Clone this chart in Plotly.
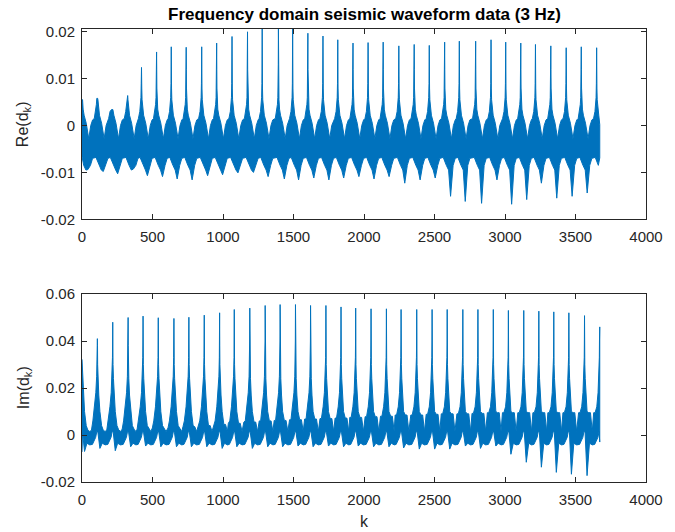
import plotly.graph_objects as go

# ---------------- data ----------------
K_END = 3672  # last sample index

# Re(d_k): spike positions, spike peaks, deepest trough after each spike
re_spike_k = [0, 109, 211, 322, 422, 529, 633, 739, 849, 955, 1064, 1174, 1278, 1393,
              1494, 1602, 1709, 1814, 1922, 2029, 2136, 2247, 2356, 2463, 2572, 2676,
              2792, 2901, 3005, 3112, 3216, 3325, 3434, 3541, 3650]
re_peak = [0.0056, 0.0058, 0.0034, 0.0064, 0.0124, 0.0157, 0.0168, 0.0167, 0.0168, 0.0176,
           0.0190, 0.0200, 0.0207, 0.0209, 0.0209, 0.0197, 0.0191, 0.0183, 0.0176, 0.0177,
           0.0178, 0.0170, 0.0173, 0.0171, 0.0178, 0.0180, 0.0180, 0.0183, 0.0178, 0.0176,
           0.0173, 0.0170, 0.0166, 0.0168, 0.0166]
re_trough = [-0.0094, -0.0098, -0.0103, -0.0093, -0.0107, -0.0109, -0.0114, -0.0116, -0.0107,
             -0.0105, -0.0101, -0.0100, -0.0109, -0.0114, -0.0116, -0.0112, -0.0116, -0.0112,
             -0.0109, -0.0114, -0.0109, -0.0123, -0.0116, -0.0112, -0.0151, -0.0162, -0.0166,
             -0.0116, -0.0168, -0.0158, -0.0123, -0.0155, -0.0151, -0.0144, -0.0073]
# typical Re band shape around a spike (offset in samples, value)
re_upper_shape = [(-22, 0.0015), (-12, 0.0030), (-7, 0.0045), (-4, 0.0060), (-2, 0.0090),
                  (-1, 0.0130), (1, 0.0120), (2, 0.0080), (4, 0.0055), (8, 0.0035),
                  (15, 0.0022), (30, 0.0005), (48, -0.0028), (62, 0.0000), (75, 0.0012)]
re_lower_shape = [(-10, -0.0068), (0, -0.0075), (12, -0.0085), (28, -0.0095),
                  (60, -0.0085), (75, -0.0070)]
re_trough_offset = 42

# Im(d_k): spike positions, spike peaks, dip after spike, band top between spikes
im_spike_k = [0, 109, 218, 327, 433, 541, 652, 758, 867, 976, 1080, 1190, 1299, 1405,
              1514, 1621, 1730, 1837, 1941, 2050, 2159, 2263, 2374, 2483, 2590, 2701,
              2808, 2917, 3024, 3133, 3240, 3346, 3453, 3564, 3671]
im_peak = [0.0322, 0.0410, 0.0480, 0.0500, 0.0506, 0.0499, 0.0496, 0.0501, 0.0510, 0.0520,
           0.0534, 0.0540, 0.0551, 0.0555, 0.0555, 0.0551, 0.0551, 0.0545, 0.0540, 0.0537,
           0.0537, 0.0534, 0.0534, 0.0534, 0.0534, 0.0534, 0.0534, 0.0534, 0.0530, 0.0530,
           0.0527, 0.0524, 0.0520, 0.0508, 0.0460]
im_dip = [-0.0070, -0.0057, -0.0067, -0.0050, -0.0047, -0.0050, -0.0050, -0.0050, -0.0050,
          -0.0057, -0.0050, -0.0057, -0.0050, -0.0050, -0.0047, -0.0050, -0.0047, -0.0050,
          -0.0047, -0.0050, -0.0050, -0.0055, -0.0060, -0.0060, -0.0060, -0.0047, -0.0057,
          -0.0047, -0.0082, -0.0116, -0.0137, -0.0159, -0.0167, -0.0173, -0.0030]
im_band_top = [0.0020, 0.0020, 0.0022, 0.0025, 0.0025, 0.0030, 0.0030, 0.0035, 0.0040,
               0.0045, 0.0050, 0.0055, 0.0060, 0.0062, 0.0065, 0.0068, 0.0070, 0.0072,
               0.0075, 0.0078, 0.0080, 0.0085, 0.0085, 0.0088, 0.0090, 0.0090, 0.0092,
               0.0095, 0.0095, 0.0095, 0.0095, 0.0095, 0.0095, 0.0095, 0.0095]
im_notch = 0.0015  # band top in the gap between two spikes
im_upper_shape = [(-32, 0.0060), (-20, 0.0120), (-11, 0.0180), (-5, 0.0250), (-2, 0.0330),
                  (-1, 0.0400), (1, 0.0380), (2, 0.0300), (5, 0.0240), (10, 0.0170),
                  (18, 0.0100), (30, 0.0040)]
im_lower_shape = [(-35, -0.0040), (-12, -0.0010), (-4, 0.0015), (4, 0.0010),
                  (35, -0.0035), (55, -0.0042)]
im_dip_offset = 18

re_ticks = [-0.02, -0.01, 0, 0.01, 0.02]
re_ticktext = ["-0.02", "-0.01", "0", "0.01", "0.02"]
im_ticks = [-0.02, 0, 0.02, 0.04, 0.06]
im_ticktext = ["-0.02", "0", "0.02", "0.04", "0.06"]
k_ticks = [0, 500, 1000, 1500, 2000, 2500, 3000, 3500, 4000]

BLUE = "#0072BD"
AX = "#262626"


def envelope(spikes, peaks, up_shape, lo_shape, key_off, key_vals, band_top=None,
             notch=None, start_lo=None, end_up=None, end_lo=None):
    up, lo = [], []
    for i, s in enumerate(spikes):
        pk = peaks[i]
        up.append((s, pk))
        for off, v in up_shape:
            val = min(v, pk)
            if band_top is not None:
                val = max(val, band_top[i])
            up.append((s + off, val))
        if band_top is not None:
            up.append((s - 42, band_top[i]))
            up.append((s + 42, band_top[i]))
            up.append((s + 55, min(notch, band_top[i])))
        for off, v in lo_shape:
            lo.append((s + off, v))
        lo.append((s + key_off, key_vals[i]))
    up = sorted(p for p in up if 0 <= p[0] <= K_END)
    lo = sorted(p for p in lo if 0 <= p[0] <= K_END)
    if start_lo is not None:
        lo = [(0, start_lo)] + [p for p in lo if p[0] > 0]
    if end_up is not None:
        up = [p for p in up if p[0] < K_END] + [(K_END, end_up)]
    if end_lo is not None:
        lo = [p for p in lo if p[0] < K_END] + [(K_END, end_lo)]
    xs = [p[0] for p in up] + [p[0] for p in lo[::-1]]
    ys = [p[1] for p in up] + [p[1] for p in lo[::-1]]
    return xs, ys


re_x, re_y = envelope(re_spike_k, re_peak, re_upper_shape, re_lower_shape,
                      re_trough_offset, re_trough, start_lo=-0.0066,
                      end_up=0.0002, end_lo=-0.0069)
im_x, im_y = envelope(im_spike_k, im_peak, im_upper_shape, im_lower_shape,
                      im_dip_offset, im_dip, band_top=im_band_top, notch=im_notch,
                      start_lo=-0.0072, end_up=0.0460, end_lo=-0.0030)

fig = go.Figure()
fig.add_trace(go.Scatter(x=re_x, y=re_y, mode="lines", fill="toself",
                         line=dict(color=BLUE, width=1), fillcolor=BLUE,
                         xaxis="x", yaxis="y", showlegend=False, hoverinfo="skip"))
fig.add_trace(go.Scatter(x=im_x, y=im_y, mode="lines", fill="toself",
                         line=dict(color=BLUE, width=1), fillcolor=BLUE,
                         xaxis="x2", yaxis="y2", showlegend=False, hoverinfo="skip"))

FONT = "Liberation Sans, Arial, Helvetica, sans-serif"
axis_common = dict(showline=True, linecolor=AX, linewidth=1, mirror="ticks",
                   ticks="inside", ticklen=5, tickwidth=1, tickcolor=AX,
                   showgrid=False, zeroline=False,
                   tickfont=dict(family=FONT, size=15, color=AX))

fig.update_layout(
    width=675, height=532,
    margin=dict(l=82, r=18, t=29, b=50),
    paper_bgcolor="white", plot_bgcolor="white",
    font=dict(family=FONT, color=AX),
    xaxis=dict(domain=[0, 1], range=[0, 4000], tickvals=k_ticks, anchor="y",
               ticklabelstandoff=4, **axis_common),
    yaxis=dict(domain=[0.58, 1.0], range=[-0.02, 0.0206], tickvals=re_ticks,
               ticktext=re_ticktext, anchor="x", ticklabelstandoff=3, **axis_common),
    xaxis2=dict(domain=[0, 1], range=[0, 4000], tickvals=k_ticks, anchor="y2",
                ticklabelstandoff=4, **axis_common),
    yaxis2=dict(domain=[0.0, 0.415], range=[-0.02, 0.06], tickvals=im_ticks,
                ticktext=im_ticktext, anchor="x2", ticklabelstandoff=3, **axis_common),
    annotations=[
        dict(text="<b>Frequency domain seismic waveform data (3 Hz)</b>", xref="paper",
             yref="paper", x=0.5, y=1 + (29 - 14) / 453, xanchor="center", yanchor="middle",
             showarrow=False, font=dict(family=FONT, size=17, color="black")),
        dict(text="Re(d<sub>k</sub>)", xref="paper", yref="paper", x=(23 - 82) / 575,
             y=(482 - 124) / 453, xanchor="center", yanchor="middle", textangle=-90,
             showarrow=False, font=dict(family=FONT, size=16, color=AX)),
        dict(text="Im(d<sub>k</sub>)", xref="paper", yref="paper", x=(23 - 82) / 575,
             y=(482 - 388) / 453, xanchor="center", yanchor="middle", textangle=-90,
             showarrow=False, font=dict(family=FONT, size=16, color=AX)),
        dict(text="k", xref="paper", yref="paper", x=0.5, y=(482 - 521) / 453,
             xanchor="center", yanchor="middle", showarrow=False,
             font=dict(family=FONT, size=16, color=AX)),
    ],
)

fig.write_html("out.html")
